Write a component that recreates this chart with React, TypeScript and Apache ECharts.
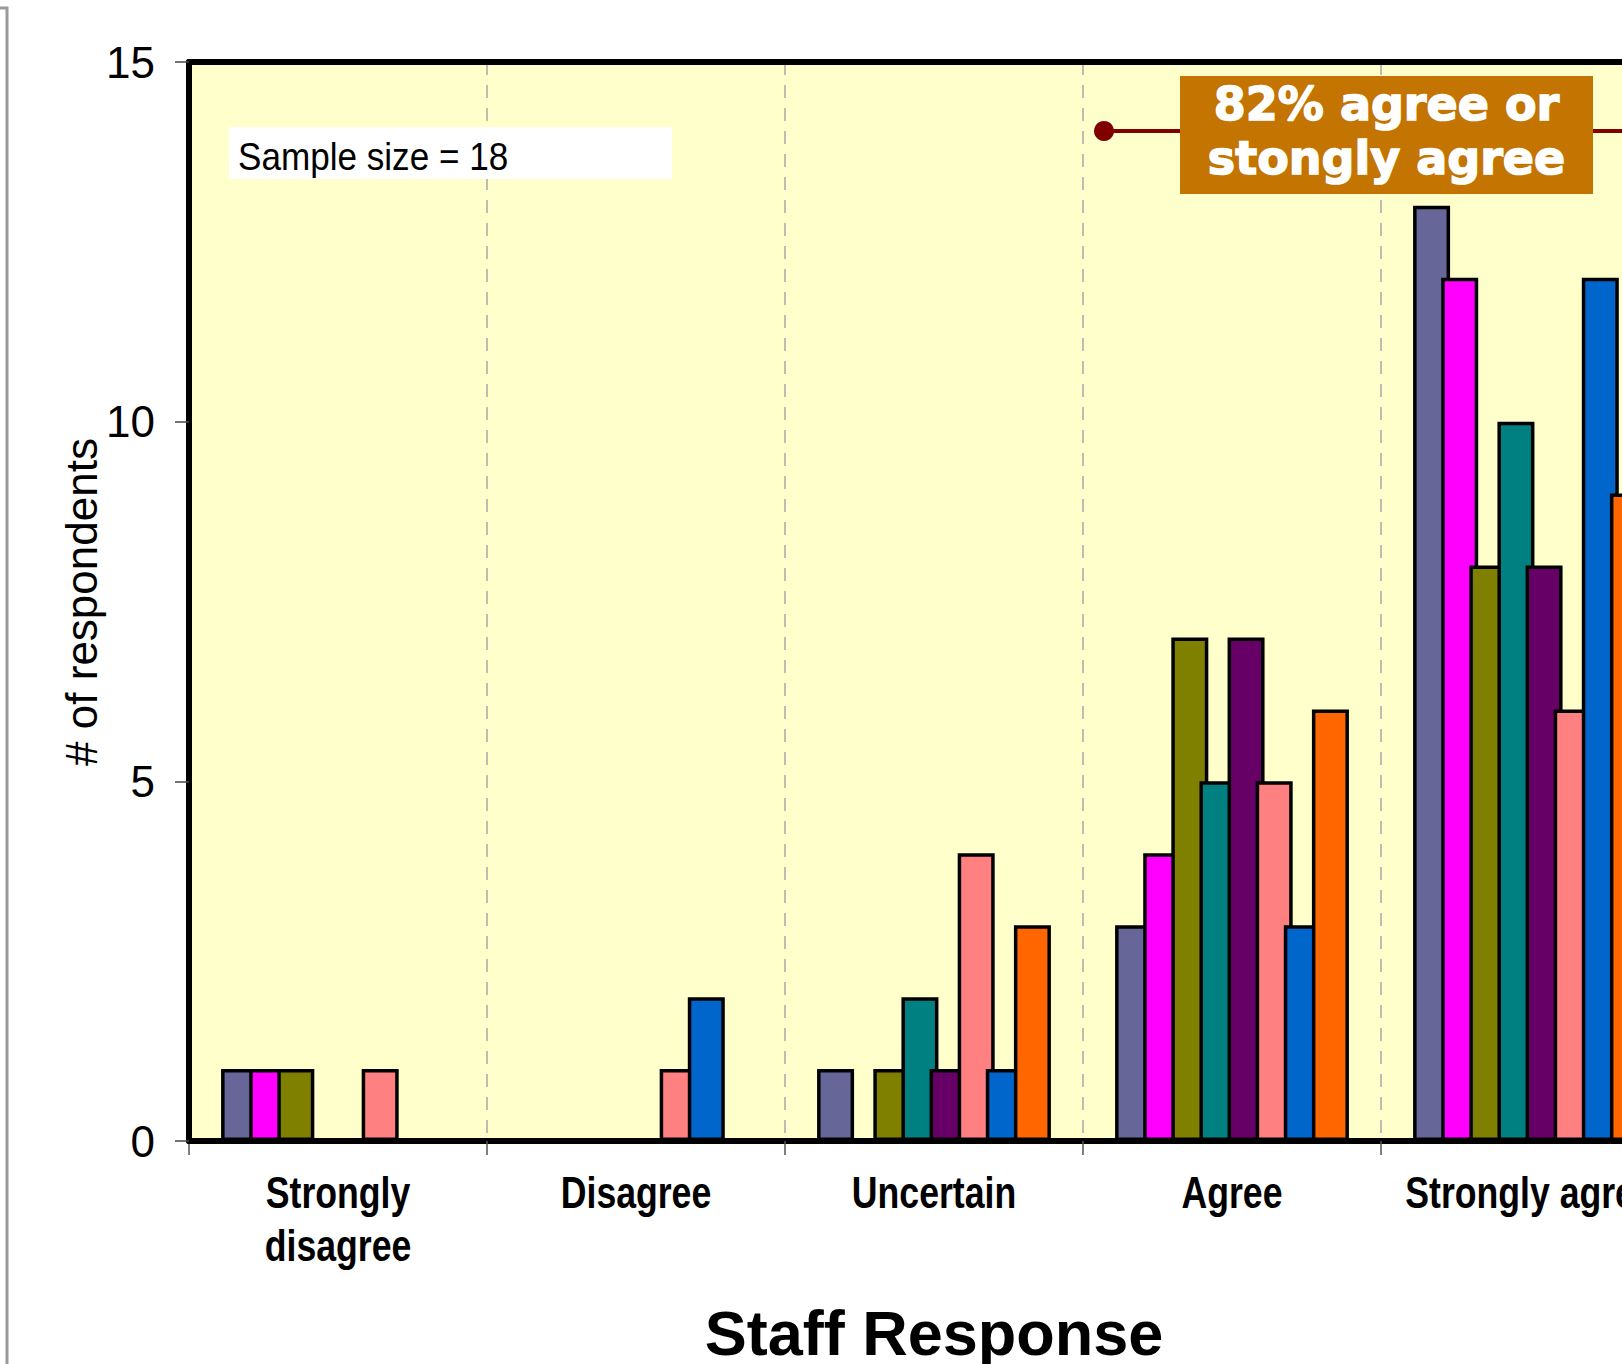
import React, { useEffect, useRef } from "react";
import * as echarts from "echarts";

const categories = ["Strongly\ndisagree", "Disagree", "Uncertain", "Agree", "Strongly agree"];
const yTicks = [0, 5, 10, 15];

const s1 = [1, 0, 1, 3, 13];
const s2 = [1, 0, 0, 4, 12];
const s3 = [1, 0, 1, 7, 8];
const s4 = [0, 0, 2, 5, 10];
const s5 = [0, 0, 1, 7, 8];
const s6 = [1, 1, 4, 5, 6];
const s7 = [0, 2, 1, 3, 12];
const s8 = [0, 0, 3, 6, 9];

const seriesNames = ["Item 1", "Item 2", "Item 3", "Item 4", "Item 5", "Item 6", "Item 7", "Item 8"];
const seriesValues = [s1, s2, s3, s4, s5, s6, s7, s8];
const seriesColors = ["#666699", "#FF00FF", "#808000", "#008080", "#660066", "#FF8080", "#0066CC", "#FF6600"];

const sampleText = "Sample size = 18";
const calloutText = "82% agree or\nstongly agree";
const xTitle = "Staff Response";
const yTitle = "# of respondents";

export default function App() {
  const ref = useRef<HTMLDivElement>(null);
  useEffect(() => {
    if (!ref.current) return;
    const chart = echarts.init(ref.current, null, { renderer: "svg" });
    const option: any = {
      animation: false,
      backgroundColor: "#ffffff",
      grid: {
        left: 189,
        top: 62,
        width: 1490,
        height: 1079,
        show: true,
        backgroundColor: "#FFFFCC",
        borderWidth: 0,
        containLabel: false,
        outerBoundsMode: "none",
      },
      xAxis: [
        {
          type: "category",
          data: categories,
          boundaryGap: true,
          z: 5,
          axisLine: { show: true, lineStyle: { color: "#000", width: 6 } },
          axisTick: { show: true, length: 14, lineStyle: { color: "#555", width: 1.5 } },
          axisLabel: { show: false },
          splitLine: {
            show: true,
            showMinLine: false,
            lineStyle: { color: "#A8A8A8", width: 1.5, type: [13, 10] },
          },
          name: xTitle,
          nameLocation: "middle",
          nameGap: 167,
          nameTextStyle: {
            fontSize: 63,
            lineHeight: 50,
            fontWeight: "bold",
            color: "#000",
            fontFamily: "'Liberation Sans', Arial, sans-serif",
          },
        },
        {
          type: "category",
          data: categories,
          position: "top",
          z: 5,
          axisLine: { show: true, lineStyle: { color: "#000", width: 6 } },
          axisTick: { show: false },
          axisLabel: { show: false },
          splitLine: { show: false },
        },
      ],
      yAxis: {
        type: "value",
        min: 0,
        max: 15,
        interval: 5,
        z: 6,
        axisLine: { show: true, lineStyle: { color: "#000", width: 6 } },
        axisTick: { show: true, length: 14, lineStyle: { color: "#444", width: 1.5 } },
        axisLabel: {
          margin: 34,
          fontSize: 44,
          color: "#000",
          fontFamily: "'Liberation Sans', Arial, sans-serif",
          formatter: (v: number) => (yTicks.indexOf(v) >= 0 ? String(v) : ""),
        },
        splitLine: { show: false },
      },
      series: seriesValues.map((vals, i) => ({
        name: seriesNames[i],
        type: "bar",
        xAxisIndex: 0,
        data: vals,
        barWidth: 37,
        barGap: "-24%",
        itemStyle: { color: seriesColors[i], borderColor: "#000", borderWidth: 3.5 },
      })),
    };
    chart.setOption(option);

    const labelGraphics = categories.map((c) => {
      const cx = chart.convertToPixel({ xAxisIndex: 0 }, c) as number;
      return {
        type: "text",
        x: cx,
        y: 1166,
        scaleX: 0.81,
        style: {
          text: c,
          fontSize: 44,
          lineHeight: 53,
          fontWeight: "bold",
          fontFamily: "'Liberation Sans', Arial, sans-serif",
          fill: "#000",
          align: "center",
          verticalAlign: "top",
        },
        z: 10,
      };
    });

    chart.setOption({
      graphic: [
        {
          type: "polyline",
          shape: { points: [[0, 8], [7, 8], [7, 1364]] },
          style: { stroke: "#9a9a9a", lineWidth: 3, fill: null },
          z: 10,
        },
        {
          type: "text",
          x: 81,
          y: 602,
          rotation: Math.PI / 2,
          style: {
            text: yTitle,
            fontSize: 44,
            fontFamily: "'Liberation Sans', Arial, sans-serif",
            fill: "#000",
            align: "center",
            verticalAlign: "middle",
          },
          z: 10,
        },
        {
          type: "rect",
          shape: { x: 229, y: 127, width: 443, height: 52 },
          style: { fill: "#ffffff" },
          z: 10,
        },
        {
          type: "text",
          x: 238,
          y: 156.5,
          scaleX: 0.9,
          style: {
            text: sampleText,
            fontSize: 39,
            fontFamily: "'Liberation Sans', Arial, sans-serif",
            fill: "#000",
            verticalAlign: "middle",
            align: "left",
          },
          z: 11,
        },
        {
          type: "line",
          shape: { x1: 1104, y1: 131, x2: 1760, y2: 131 },
          style: { stroke: "#800000", lineWidth: 4 },
          z: 10,
        },
        {
          type: "circle",
          shape: { cx: 1104, cy: 131, r: 10 },
          style: { fill: "#800000" },
          z: 10,
        },
        {
          type: "rect",
          shape: { x: 1180, y: 76, width: 413, height: 118 },
          style: { fill: "#C47400" },
          z: 11,
        },
        {
          type: "text",
          x: 1386.5,
          y: 131,
          style: {
            text: calloutText,
            fontSize: 46,
            lineHeight: 54,
            fontWeight: "bold",
            fontFamily: "'DejaVu Sans', Verdana, sans-serif",
            fill: "#ffffff",
            stroke: "#ffffff",
            lineWidth: 1.5,
            align: "center",
            verticalAlign: "middle",
          },
          z: 12,
        },
        ...labelGraphics,
      ],
    });
    return () => chart.dispose();
  }, []);
  return (
    <div style={{ position: "fixed", left: 0, top: 0, width: 1622, height: 1364, overflow: "hidden", background: "#fff" }}>
      <div ref={ref} style={{ width: 1760, height: 1364 }} />
    </div>
  );
}
